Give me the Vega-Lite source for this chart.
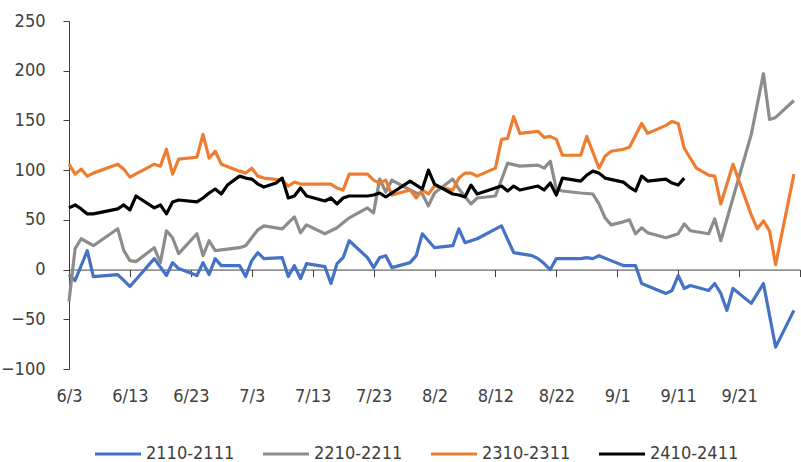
{
"$schema": "https://vega.github.io/schema/vega-lite/v6.json",
"width": 731,
"height": 348,
"autosize": {"type": "none"},
"padding": {"left": 69, "top": 21, "right": 1, "bottom": 93},
"background": "white",
"config": {"view": {"stroke": null}, "font": "DejaVu Sans Condensed, Liberation Sans Narrow, sans-serif"},
"data": {"values": [
{"series":"2110-2111","date":"2024-06-03","value":-5},{"series":"2110-2111","date":"2024-06-04","value":-11},{"series":"2110-2111","date":"2024-06-06","value":19},{"series":"2110-2111","date":"2024-06-07","value":-7},{"series":"2110-2111","date":"2024-06-11","value":-5},{"series":"2110-2111","date":"2024-06-13","value":-17},{"series":"2110-2111","date":"2024-06-17","value":11},{"series":"2110-2111","date":"2024-06-19","value":-6},{"series":"2110-2111","date":"2024-06-20","value":7},{"series":"2110-2111","date":"2024-06-21","value":1},{"series":"2110-2111","date":"2024-06-24","value":-6},{"series":"2110-2111","date":"2024-06-25","value":7},{"series":"2110-2111","date":"2024-06-26","value":-5},{"series":"2110-2111","date":"2024-06-27","value":11},{"series":"2110-2111","date":"2024-06-28","value":4},{"series":"2110-2111","date":"2024-07-01","value":4},{"series":"2110-2111","date":"2024-07-02","value":-7},{"series":"2110-2111","date":"2024-07-03","value":9},{"series":"2110-2111","date":"2024-07-04","value":17},{"series":"2110-2111","date":"2024-07-05","value":11},{"series":"2110-2111","date":"2024-07-08","value":12},{"series":"2110-2111","date":"2024-07-09","value":-7},{"series":"2110-2111","date":"2024-07-10","value":4},{"series":"2110-2111","date":"2024-07-11","value":-9},{"series":"2110-2111","date":"2024-07-12","value":6},{"series":"2110-2111","date":"2024-07-15","value":3},{"series":"2110-2111","date":"2024-07-16","value":-14},{"series":"2110-2111","date":"2024-07-17","value":6},{"series":"2110-2111","date":"2024-07-18","value":12},{"series":"2110-2111","date":"2024-07-19","value":29},{"series":"2110-2111","date":"2024-07-22","value":12},{"series":"2110-2111","date":"2024-07-23","value":2},{"series":"2110-2111","date":"2024-07-24","value":12},{"series":"2110-2111","date":"2024-07-25","value":14},{"series":"2110-2111","date":"2024-07-26","value":2},{"series":"2110-2111","date":"2024-07-29","value":7},{"series":"2110-2111","date":"2024-07-30","value":14},{"series":"2110-2111","date":"2024-07-31","value":36},{"series":"2110-2111","date":"2024-08-02","value":22},{"series":"2110-2111","date":"2024-08-05","value":24},{"series":"2110-2111","date":"2024-08-06","value":41},{"series":"2110-2111","date":"2024-08-07","value":27},{"series":"2110-2111","date":"2024-08-09","value":31},{"series":"2110-2111","date":"2024-08-13","value":44},{"series":"2110-2111","date":"2024-08-15","value":17},{"series":"2110-2111","date":"2024-08-18","value":14},{"series":"2110-2111","date":"2024-08-19","value":11},{"series":"2110-2111","date":"2024-08-20","value":6},{"series":"2110-2111","date":"2024-08-21","value":0},{"series":"2110-2111","date":"2024-08-22","value":11},{"series":"2110-2111","date":"2024-08-26","value":11},{"series":"2110-2111","date":"2024-08-27","value":12},{"series":"2110-2111","date":"2024-08-28","value":11},{"series":"2110-2111","date":"2024-08-29","value":14},{"series":"2110-2111","date":"2024-08-31","value":9},{"series":"2110-2111","date":"2024-09-02","value":4},{"series":"2110-2111","date":"2024-09-04","value":4},{"series":"2110-2111","date":"2024-09-05","value":-14},{"series":"2110-2111","date":"2024-09-07","value":-19},{"series":"2110-2111","date":"2024-09-09","value":-24},{"series":"2110-2111","date":"2024-09-10","value":-21},{"series":"2110-2111","date":"2024-09-11","value":-6},{"series":"2110-2111","date":"2024-09-12","value":-19},{"series":"2110-2111","date":"2024-09-13","value":-16},{"series":"2110-2111","date":"2024-09-16","value":-21},{"series":"2110-2111","date":"2024-09-17","value":-14},{"series":"2110-2111","date":"2024-09-18","value":-24},{"series":"2110-2111","date":"2024-09-19","value":-41},{"series":"2110-2111","date":"2024-09-20","value":-19},{"series":"2110-2111","date":"2024-09-23","value":-34},{"series":"2110-2111","date":"2024-09-25","value":-14},{"series":"2110-2111","date":"2024-09-27","value":-78},{"series":"2110-2111","date":"2024-09-30","value":-41},
{"series":"2210-2211","date":"2024-06-03","value":-32},{"series":"2210-2211","date":"2024-06-04","value":21},{"series":"2210-2211","date":"2024-06-05","value":31},{"series":"2210-2211","date":"2024-06-07","value":24},{"series":"2210-2211","date":"2024-06-11","value":41},{"series":"2210-2211","date":"2024-06-12","value":19},{"series":"2210-2211","date":"2024-06-13","value":9},{"series":"2210-2211","date":"2024-06-14","value":8},{"series":"2210-2211","date":"2024-06-17","value":22},{"series":"2210-2211","date":"2024-06-18","value":7},{"series":"2210-2211","date":"2024-06-19","value":39},{"series":"2210-2211","date":"2024-06-20","value":32},{"series":"2210-2211","date":"2024-06-21","value":16},{"series":"2210-2211","date":"2024-06-24","value":36},{"series":"2210-2211","date":"2024-06-25","value":14},{"series":"2210-2211","date":"2024-06-26","value":29},{"series":"2210-2211","date":"2024-06-27","value":19},{"series":"2210-2211","date":"2024-07-01","value":22},{"series":"2210-2211","date":"2024-07-02","value":24},{"series":"2210-2211","date":"2024-07-03","value":32},{"series":"2210-2211","date":"2024-07-04","value":40},{"series":"2210-2211","date":"2024-07-05","value":44},{"series":"2210-2211","date":"2024-07-08","value":41},{"series":"2210-2211","date":"2024-07-10","value":53},{"series":"2210-2211","date":"2024-07-11","value":37},{"series":"2210-2211","date":"2024-07-12","value":45},{"series":"2210-2211","date":"2024-07-15","value":36},{"series":"2210-2211","date":"2024-07-17","value":42},{"series":"2210-2211","date":"2024-07-18","value":47},{"series":"2210-2211","date":"2024-07-19","value":52},{"series":"2210-2211","date":"2024-07-22","value":62},{"series":"2210-2211","date":"2024-07-23","value":57},{"series":"2210-2211","date":"2024-07-24","value":91},{"series":"2210-2211","date":"2024-07-25","value":78},{"series":"2210-2211","date":"2024-07-26","value":90},{"series":"2210-2211","date":"2024-07-29","value":80},{"series":"2210-2211","date":"2024-07-30","value":77},{"series":"2210-2211","date":"2024-07-31","value":76},{"series":"2210-2211","date":"2024-08-01","value":64},{"series":"2210-2211","date":"2024-08-02","value":77},{"series":"2210-2211","date":"2024-08-05","value":91},{"series":"2210-2211","date":"2024-08-06","value":81},{"series":"2210-2211","date":"2024-08-08","value":66},{"series":"2210-2211","date":"2024-08-09","value":72},{"series":"2210-2211","date":"2024-08-12","value":74},{"series":"2210-2211","date":"2024-08-14","value":107},{"series":"2210-2211","date":"2024-08-16","value":104},{"series":"2210-2211","date":"2024-08-19","value":105},{"series":"2210-2211","date":"2024-08-20","value":102},{"series":"2210-2211","date":"2024-08-21","value":109},{"series":"2210-2211","date":"2024-08-22","value":81},{"series":"2210-2211","date":"2024-08-23","value":79},{"series":"2210-2211","date":"2024-08-26","value":77},{"series":"2210-2211","date":"2024-08-28","value":76},{"series":"2210-2211","date":"2024-08-29","value":66},{"series":"2210-2211","date":"2024-08-30","value":52},{"series":"2210-2211","date":"2024-08-31","value":45},{"series":"2210-2211","date":"2024-09-02","value":48},{"series":"2210-2211","date":"2024-09-03","value":50},{"series":"2210-2211","date":"2024-09-04","value":36},{"series":"2210-2211","date":"2024-09-05","value":42},{"series":"2210-2211","date":"2024-09-06","value":37},{"series":"2210-2211","date":"2024-09-09","value":32},{"series":"2210-2211","date":"2024-09-11","value":36},{"series":"2210-2211","date":"2024-09-12","value":46},{"series":"2210-2211","date":"2024-09-13","value":39},{"series":"2210-2211","date":"2024-09-16","value":36},{"series":"2210-2211","date":"2024-09-17","value":51},{"series":"2210-2211","date":"2024-09-18","value":29},{"series":"2210-2211","date":"2024-09-20","value":72},{"series":"2210-2211","date":"2024-09-23","value":136},{"series":"2210-2211","date":"2024-09-25","value":197},{"series":"2210-2211","date":"2024-09-26","value":151},{"series":"2210-2211","date":"2024-09-27","value":153},{"series":"2210-2211","date":"2024-09-30","value":170},
{"series":"2310-2311","date":"2024-06-03","value":106},{"series":"2310-2311","date":"2024-06-04","value":96},{"series":"2310-2311","date":"2024-06-05","value":101},{"series":"2310-2311","date":"2024-06-06","value":94},{"series":"2310-2311","date":"2024-06-07","value":97},{"series":"2310-2311","date":"2024-06-11","value":106},{"series":"2310-2311","date":"2024-06-12","value":101},{"series":"2310-2311","date":"2024-06-13","value":93},{"series":"2310-2311","date":"2024-06-17","value":106},{"series":"2310-2311","date":"2024-06-18","value":104},{"series":"2310-2311","date":"2024-06-19","value":121},{"series":"2310-2311","date":"2024-06-20","value":96},{"series":"2310-2311","date":"2024-06-21","value":111},{"series":"2310-2311","date":"2024-06-24","value":113},{"series":"2310-2311","date":"2024-06-25","value":136},{"series":"2310-2311","date":"2024-06-26","value":112},{"series":"2310-2311","date":"2024-06-27","value":119},{"series":"2310-2311","date":"2024-06-28","value":106},{"series":"2310-2311","date":"2024-07-01","value":99},{"series":"2310-2311","date":"2024-07-02","value":97},{"series":"2310-2311","date":"2024-07-03","value":102},{"series":"2310-2311","date":"2024-07-04","value":94},{"series":"2310-2311","date":"2024-07-05","value":92},{"series":"2310-2311","date":"2024-07-08","value":90},{"series":"2310-2311","date":"2024-07-09","value":84},{"series":"2310-2311","date":"2024-07-10","value":88},{"series":"2310-2311","date":"2024-07-11","value":86},{"series":"2310-2311","date":"2024-07-12","value":86},{"series":"2310-2311","date":"2024-07-15","value":86},{"series":"2310-2311","date":"2024-07-16","value":86},{"series":"2310-2311","date":"2024-07-17","value":82},{"series":"2310-2311","date":"2024-07-18","value":80},{"series":"2310-2311","date":"2024-07-19","value":96},{"series":"2310-2311","date":"2024-07-22","value":96},{"series":"2310-2311","date":"2024-07-23","value":90},{"series":"2310-2311","date":"2024-07-24","value":87},{"series":"2310-2311","date":"2024-07-25","value":90},{"series":"2310-2311","date":"2024-07-26","value":75},{"series":"2310-2311","date":"2024-07-29","value":80},{"series":"2310-2311","date":"2024-07-30","value":72},{"series":"2310-2311","date":"2024-07-31","value":80},{"series":"2310-2311","date":"2024-08-01","value":76},{"series":"2310-2311","date":"2024-08-02","value":84},{"series":"2310-2311","date":"2024-08-05","value":80},{"series":"2310-2311","date":"2024-08-06","value":92},{"series":"2310-2311","date":"2024-08-07","value":97},{"series":"2310-2311","date":"2024-08-08","value":97},{"series":"2310-2311","date":"2024-08-09","value":94},{"series":"2310-2311","date":"2024-08-12","value":102},{"series":"2310-2311","date":"2024-08-13","value":131},{"series":"2310-2311","date":"2024-08-14","value":132},{"series":"2310-2311","date":"2024-08-15","value":154},{"series":"2310-2311","date":"2024-08-16","value":137},{"series":"2310-2311","date":"2024-08-19","value":139},{"series":"2310-2311","date":"2024-08-20","value":133},{"series":"2310-2311","date":"2024-08-21","value":134},{"series":"2310-2311","date":"2024-08-22","value":131},{"series":"2310-2311","date":"2024-08-23","value":115},{"series":"2310-2311","date":"2024-08-26","value":115},{"series":"2310-2311","date":"2024-08-27","value":134},{"series":"2310-2311","date":"2024-08-29","value":102},{"series":"2310-2311","date":"2024-08-30","value":114},{"series":"2310-2311","date":"2024-08-31","value":119},{"series":"2310-2311","date":"2024-09-02","value":121},{"series":"2310-2311","date":"2024-09-03","value":123},{"series":"2310-2311","date":"2024-09-05","value":147},{"series":"2310-2311","date":"2024-09-06","value":137},{"series":"2310-2311","date":"2024-09-09","value":145},{"series":"2310-2311","date":"2024-09-10","value":149},{"series":"2310-2311","date":"2024-09-11","value":147},{"series":"2310-2311","date":"2024-09-12","value":122},{"series":"2310-2311","date":"2024-09-13","value":112},{"series":"2310-2311","date":"2024-09-14","value":102},{"series":"2310-2311","date":"2024-09-16","value":95},{"series":"2310-2311","date":"2024-09-17","value":94},{"series":"2310-2311","date":"2024-09-18","value":66},{"series":"2310-2311","date":"2024-09-20","value":106},{"series":"2310-2311","date":"2024-09-23","value":55},{"series":"2310-2311","date":"2024-09-24","value":41},{"series":"2310-2311","date":"2024-09-25","value":49},{"series":"2310-2311","date":"2024-09-26","value":39},{"series":"2310-2311","date":"2024-09-27","value":5},{"series":"2310-2311","date":"2024-09-30","value":96},
{"series":"2410-2411","date":"2024-06-03","value":62},{"series":"2410-2411","date":"2024-06-04","value":65},{"series":"2410-2411","date":"2024-06-05","value":61},{"series":"2410-2411","date":"2024-06-06","value":56},{"series":"2410-2411","date":"2024-06-07","value":56},{"series":"2410-2411","date":"2024-06-11","value":61},{"series":"2410-2411","date":"2024-06-12","value":65},{"series":"2410-2411","date":"2024-06-13","value":60},{"series":"2410-2411","date":"2024-06-14","value":74},{"series":"2410-2411","date":"2024-06-17","value":62},{"series":"2410-2411","date":"2024-06-18","value":65},{"series":"2410-2411","date":"2024-06-19","value":56},{"series":"2410-2411","date":"2024-06-20","value":68},{"series":"2410-2411","date":"2024-06-21","value":70},{"series":"2410-2411","date":"2024-06-24","value":68},{"series":"2410-2411","date":"2024-06-25","value":72},{"series":"2410-2411","date":"2024-06-26","value":77},{"series":"2410-2411","date":"2024-06-27","value":81},{"series":"2410-2411","date":"2024-06-28","value":76},{"series":"2410-2411","date":"2024-06-29","value":85},{"series":"2410-2411","date":"2024-07-01","value":94},{"series":"2410-2411","date":"2024-07-02","value":92},{"series":"2410-2411","date":"2024-07-03","value":91},{"series":"2410-2411","date":"2024-07-04","value":86},{"series":"2410-2411","date":"2024-07-05","value":83},{"series":"2410-2411","date":"2024-07-07","value":87},{"series":"2410-2411","date":"2024-07-08","value":92},{"series":"2410-2411","date":"2024-07-09","value":72},{"series":"2410-2411","date":"2024-07-10","value":74},{"series":"2410-2411","date":"2024-07-11","value":82},{"series":"2410-2411","date":"2024-07-12","value":74},{"series":"2410-2411","date":"2024-07-15","value":69},{"series":"2410-2411","date":"2024-07-16","value":72},{"series":"2410-2411","date":"2024-07-17","value":66},{"series":"2410-2411","date":"2024-07-18","value":72},{"series":"2410-2411","date":"2024-07-19","value":74},{"series":"2410-2411","date":"2024-07-22","value":74},{"series":"2410-2411","date":"2024-07-23","value":75},{"series":"2410-2411","date":"2024-07-24","value":77},{"series":"2410-2411","date":"2024-07-25","value":73},{"series":"2410-2411","date":"2024-07-29","value":89},{"series":"2410-2411","date":"2024-07-30","value":85},{"series":"2410-2411","date":"2024-07-31","value":81},{"series":"2410-2411","date":"2024-08-01","value":100},{"series":"2410-2411","date":"2024-08-02","value":86},{"series":"2410-2411","date":"2024-08-05","value":76},{"series":"2410-2411","date":"2024-08-06","value":75},{"series":"2410-2411","date":"2024-08-07","value":73},{"series":"2410-2411","date":"2024-08-08","value":85},{"series":"2410-2411","date":"2024-08-09","value":76},{"series":"2410-2411","date":"2024-08-12","value":82},{"series":"2410-2411","date":"2024-08-13","value":84},{"series":"2410-2411","date":"2024-08-14","value":79},{"series":"2410-2411","date":"2024-08-15","value":84},{"series":"2410-2411","date":"2024-08-16","value":80},{"series":"2410-2411","date":"2024-08-19","value":84},{"series":"2410-2411","date":"2024-08-20","value":80},{"series":"2410-2411","date":"2024-08-21","value":87},{"series":"2410-2411","date":"2024-08-22","value":75},{"series":"2410-2411","date":"2024-08-23","value":92},{"series":"2410-2411","date":"2024-08-26","value":89},{"series":"2410-2411","date":"2024-08-27","value":95},{"series":"2410-2411","date":"2024-08-28","value":99},{"series":"2410-2411","date":"2024-08-29","value":97},{"series":"2410-2411","date":"2024-08-30","value":92},{"series":"2410-2411","date":"2024-09-02","value":88},{"series":"2410-2411","date":"2024-09-03","value":83},{"series":"2410-2411","date":"2024-09-04","value":79},{"series":"2410-2411","date":"2024-09-05","value":94},{"series":"2410-2411","date":"2024-09-06","value":89},{"series":"2410-2411","date":"2024-09-09","value":91},{"series":"2410-2411","date":"2024-09-10","value":87},{"series":"2410-2411","date":"2024-09-11","value":85},{"series":"2410-2411","date":"2024-09-12","value":92}
]},
"resolve": {"axis": {"x": "independent"}},
"layer": [
{
"mark": {"type": "line", "opacity": 0},
"encoding": {
"x": {"field": "date", "type": "temporal", "scale": {"type": "utc", "domain": [{"year": 2024, "month": 6, "date": 3, "utc": true}, {"year": 2024, "month": 10, "date": 1, "utc": true}]},
"axis": {"orient": "bottom", "offset": -99.43, "labels": false, "title": null, "grid": false, "domain": true, "domainColor": "#404040", "domainWidth": 1, "ticks": true, "tickSize": 7, "tickColor": "#404040",
"values": [{"year":2024,"month":6,"date":3,"utc":true},{"year":2024,"month":6,"date":13,"utc":true},{"year":2024,"month":6,"date":23,"utc":true},{"year":2024,"month":7,"date":3,"utc":true},{"year":2024,"month":7,"date":13,"utc":true},{"year":2024,"month":7,"date":23,"utc":true},{"year":2024,"month":8,"date":2,"utc":true},{"year":2024,"month":8,"date":12,"utc":true},{"year":2024,"month":8,"date":22,"utc":true},{"year":2024,"month":9,"date":1,"utc":true},{"year":2024,"month":9,"date":11,"utc":true},{"year":2024,"month":9,"date":21,"utc":true},{"year":2024,"month":10,"date":1,"utc":true}]}},
"y": {"field": "value", "type": "quantitative"},
"detail": {"field": "series", "type": "nominal"}
}
},
{
"mark": {"type": "line", "strokeJoin": "round"},
"encoding": {
"x": {"field": "date", "type": "temporal",
"axis": {"orient": "bottom", "title": null, "grid": false, "domain": false, "ticks": false, "labelFlush": false, "labelOverlap": false, "labelPadding": 18, "labelFontSize": 18, "labelColor": "#404040", "format": "%-m/%-d",
"values": [{"year":2024,"month":6,"date":3,"utc":true},{"year":2024,"month":6,"date":13,"utc":true},{"year":2024,"month":6,"date":23,"utc":true},{"year":2024,"month":7,"date":3,"utc":true},{"year":2024,"month":7,"date":13,"utc":true},{"year":2024,"month":7,"date":23,"utc":true},{"year":2024,"month":8,"date":2,"utc":true},{"year":2024,"month":8,"date":12,"utc":true},{"year":2024,"month":8,"date":22,"utc":true},{"year":2024,"month":9,"date":1,"utc":true},{"year":2024,"month":9,"date":11,"utc":true},{"year":2024,"month":9,"date":21,"utc":true}]}},
"y": {"field": "value", "type": "quantitative", "scale": {"domain": [-100, 250], "nice": false},
"axis": {"title": null, "grid": false, "values": [-100, -50, 0, 50, 100, 150, 200, 250], "domain": true, "domainColor": "#404040", "ticks": true, "tickSize": 6, "tickColor": "#404040", "labelPadding": 18, "labelFontSize": 18, "labelColor": "#404040"}},
"color": {"field": "series", "type": "nominal",
"scale": {"domain": ["2110-2111", "2210-2211", "2310-2311", "2410-2411"], "range": ["#4472C4", "#8C8C8C", "#ED7D31", "#000000"]},
"legend": {"title": null, "orient": "none", "legendX": 24, "legendY": 408, "direction": "horizontal", "symbolType": "stroke", "symbolSize": 2116, "symbolStrokeWidth": 3.2, "labelFontSize": 18, "labelColor": "#404040", "labelOffset": 3, "columnPadding": 21}},
"strokeWidth": {"field": "series", "type": "nominal", "scale": {"domain": ["2110-2111", "2210-2211", "2310-2311", "2410-2411"], "range": [3.2, 3.2, 3.4, 3.7]}, "legend": null}
}
}
]
}
